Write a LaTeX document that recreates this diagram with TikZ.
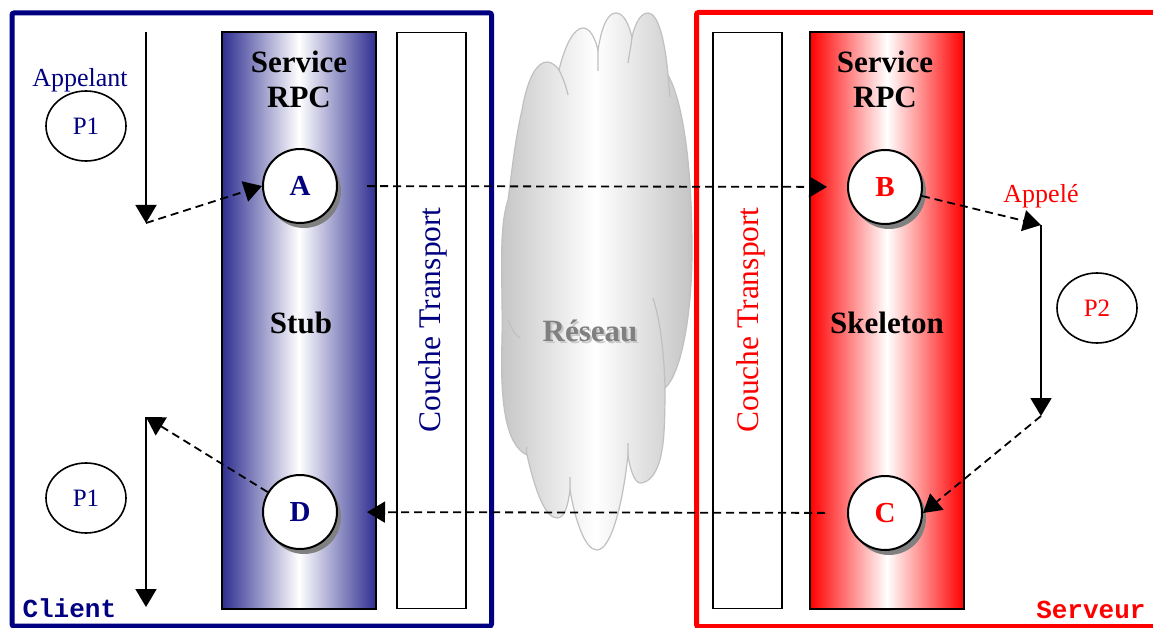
\documentclass[tikz,border=0pt]{standalone}
\usepackage{fontspec}
\setmainfont{Liberation Serif}
\setmonofont{Liberation Mono}
\usetikzlibrary{arrows.meta,shadows,shapes.geometric}

\definecolor{cnavy}{RGB}{0,0,128}
\definecolor{cred}{RGB}{255,0,0}
\definecolor{stubedge}{RGB}{46,46,145}
\definecolor{cloudfill}{RGB}{196,196,196}
\definecolor{cloudline}{RGB}{192,192,192}
\definecolor{netgray}{RGB}{128,128,128}
\definecolor{netshadow}{RGB}{200,200,200}

\tikzset{
  frame/.style={line width=5pt, rounded corners=2pt},
  column/.style={draw=black, line width=2pt, minimum width=154pt,
                 minimum height=576pt, inner sep=0pt},
  stubcol/.style={column, left color=stubedge, right color=stubedge, middle color=white},
  skelcol/.style={column, left color=cred, right color=cred, middle color=white},
  transport/.style={draw=black, line width=1.6pt, fill=white, minimum width=69pt,
                    minimum height=576pt, inner sep=0pt},
  bigbold/.style={font=\fontsize{31}{36}\selectfont\bfseries},
  transtext/.style={font=\fontsize{31.5}{35}\selectfont, rotate=90},
  ball/.style={circle, draw=black, line width=2pt, fill=white, minimum size=74pt,
               inner sep=0pt, font=\fontsize{29}{32}\selectfont\bfseries,
               drop shadow={shadow xshift=4pt, shadow yshift=-5pt, fill=black!50, opacity=1}},
  proc/.style={ellipse, draw=black, line width=1.6pt, minimum width=80pt,
               minimum height=70pt, inner sep=0pt, font=\fontsize{25}{28}\selectfont},
  role/.style={font=\fontsize{26}{30}\selectfont},
  sidelabel/.style={font=\fontsize{26}{30}\selectfont\ttfamily\bfseries},
  flow/.style={line width=1.8pt, -{Triangle[length=18pt, width=21pt]}},
  msg/.style={flow, dash pattern=on 8pt off 5pt},
}

\begin{document}
\begin{tikzpicture}[x=1pt, y=-1pt]
\useasboundingbox (0,0) rectangle (1153,628);
\fill[white] (0,0) rectangle (1153,628);

% ---------- network cloud ----------
\path[draw=cloudline, line width=1.2pt, left color=cloudfill, right color=cloudfill, middle color=white]
  (522,110)
  .. controls (528,75) and (538,62) .. (547,62)
  .. controls (552,62) and (556,66) .. (559,70)
  .. controls (565,45) and (574,28) .. (583,28)
  .. controls (590,28) and (595,38) .. (598,50)
  .. controls (602,25) and (608,13) .. (616,13)
  .. controls (624,13) and (629,25) .. (632,37)
  .. controls (636,20) and (642,13) .. (648,13)
  .. controls (658,13) and (665,40) .. (668,75)
  .. controls (682,100) and (692,160) .. (692,250)
  .. controls (692,320) and (680,375) .. (665,388)
  .. controls (665,420) and (664,440) .. (662,450)
  .. controls (658,475) and (648,483) .. (640,483)
  .. controls (635,483) and (630,470) .. (628,455)
  .. controls (622,510) and (610,550) .. (597,550)
  .. controls (585,550) and (575,520) .. (570,490)
  .. controls (568,505) and (565,518) .. (557,518)
  .. controls (545,518) and (535,490) .. (527,455)
  .. controls (505,445) and (500,400) .. (502,340)
  .. controls (503,280) and (498,230) .. (508,200)
  .. controls (512,170) and (515,140) .. (522,110)
  -- cycle;
% inner lobe outlines of the cloud
\draw[cloudline, line width=1.2pt]
  (559,70) .. controls (563,78) and (566,86) .. (568,95)
  (598,50) -- (598,71)
  (632,37) .. controls (631,47) and (629,55) .. (628,63)
  (668,75) -- (670,97)
  (653,298) .. controls (660,320) and (664,350) .. (665,388)
  (628,443) -- (628,455)
  (570,477) -- (570,490)
  (508,320) .. controls (512,330) and (516,336) .. (520,338)
  (527,455) .. controls (526,452) and (526,450) .. (527,447);
\node[bigbold, text=netshadow, anchor=base] (netsh) at (592,343) {Réseau};
\node[bigbold, text=netgray, anchor=base] (net) at (590,341) {Réseau};

% ---------- frames ----------
\draw[frame, draw=cnavy] (12,13) rectangle (491.5,626);
\draw[frame, draw=cred] (1175,12.5) -- (696.5,12.5) -- (696.5,626.5) -- (1175,626.5);
\node[sidelabel, text=cnavy, anchor=base west] (client) at (19,617) {Client};
\node[sidelabel, text=cred, anchor=base east] (serveur) at (1149,618) {Serveur};

% ---------- client side ----------
\node[stubcol] (stub) at (299,320.5) {};
\node[transport] (tcl) at (431.5,320.5) {};
\node[transtext, text=cnavy] (tcltext) at (433,320) {Couche Transport};
\node[bigbold, anchor=base] (svcl1) at (299,73) {Service};
\node[bigbold, anchor=base] (svcl2) at (299,108) {RPC};
\node[bigbold, anchor=base] (stubtext) at (301,333) {Stub};

\node[ball, text=cnavy] (A) at (300,186) {A};
\node[ball, text=cnavy] (D) at (300,512) {D};

\node[role, text=cnavy, anchor=base] (appelant) at (80,87) {Appelant};
\node[proc, text=cnavy] (P1a) at (86,126) {P1};
\node[proc, text=cnavy] (P1b) at (86,498) {P1};

% ---------- server side ----------
\node[transport] (tsv) at (747.5,320.5) {};
\node[transtext, text=cred] (tsvtext) at (751,320) {Couche Transport};
\node[skelcol] (skel) at (887,320.5) {};
\node[bigbold, anchor=base] (svcs1) at (885,73) {Service};
\node[bigbold, anchor=base] (svcs2) at (885,108) {RPC};
\node[bigbold, anchor=base] (skeltext) at (887,333) {Skeleton};

\node[ball, text=cred] (B) at (885,187) {B};
\node[ball, text=cred] (C) at (885,513) {C};

\node[role, text=cred, anchor=base] (appele) at (1041,203) {Appelé};
\node[proc, text=cred] (P2) at (1097,308) {P2};

% ---------- control flow ----------
\coordinate (c1top) at (146,32);
\coordinate (c1mid) at (146,223);
\coordinate (c1low) at (146,417);
\coordinate (c1end) at (146,607);
\coordinate (s2top) at (1041,225);
\coordinate (s2bot) at (1041,416);

\draw[flow] (c1top) -- (c1mid);
\draw[msg] (c1mid) -- (A.west);
\draw[msg, shorten <=29pt, shorten >=20pt] (A) -- (B);
\draw[msg] (B) -- (s2top);
\draw[flow] (s2top) -- (s2bot);
\draw[msg] (s2bot) -- (C.east);
\draw[msg, shorten <=22pt, shorten >=29pt] (C) -- (D);
\draw[msg] (D) -- (c1low);
\draw[flow] (c1low) -- (c1end);
\end{tikzpicture}
\end{document}
